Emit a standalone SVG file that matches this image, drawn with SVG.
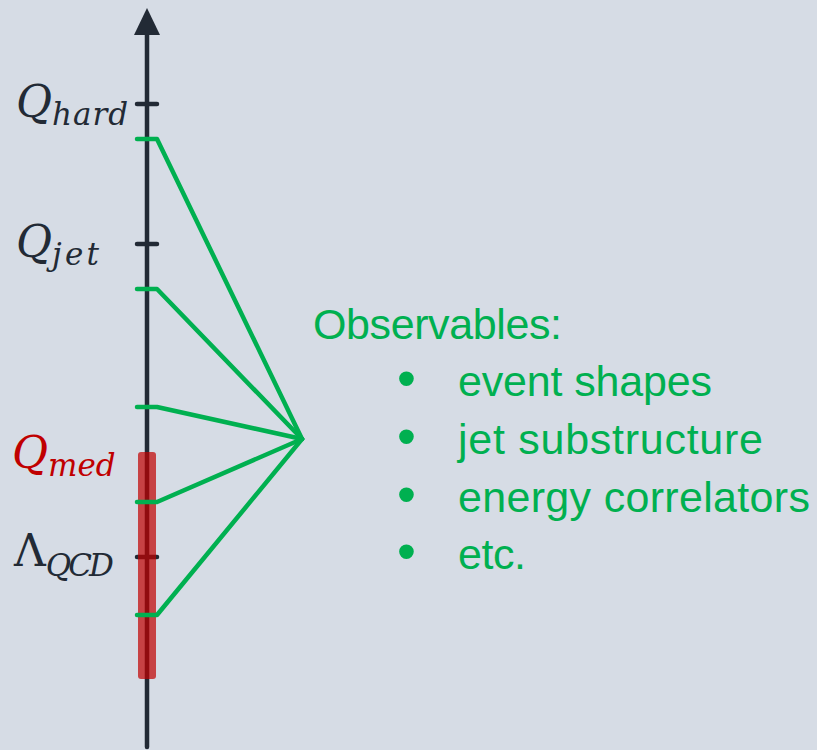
<svg xmlns="http://www.w3.org/2000/svg" width="817" height="750" viewBox="0 0 817 750">
<style>
.axis{stroke:#222a35;stroke-width:4.5;fill:none}
.tick{stroke:#222a35;stroke-width:4.5;stroke-linecap:round}
.obs{stroke:#00b050;stroke-width:4.5;fill:none;stroke-linecap:round;stroke-linejoin:round}
.lbl{font-family:"DejaVu Serif","Liberation Serif",serif;font-style:italic;fill:#222a35}
.sub{font-size:31px}
.main{font-size:44px}
.gt{font-family:"Liberation Sans",Arial,sans-serif;font-size:43px;fill:#00b050}
.bul{font-family:"Liberation Sans",Arial,sans-serif;font-size:54px;fill:#00b050}
</style>
<rect width="817" height="750" fill="#d6dce5"/>
<g id="axis">
<line class="axis" x1="147" y1="30" x2="147" y2="747" stroke-linecap="round"/>
<polygon points="147,8 134,35 160,35" fill="#222a35"/>
</g>
<g id="ticks">
<line class="tick" x1="137" y1="104" x2="157" y2="104"/>
<line class="tick" x1="137" y1="244" x2="157" y2="244"/>
<line class="tick" x1="137" y1="557" x2="157" y2="557"/>
</g>
<g id="qhard"><text class="lbl" x="16" y="117"><tspan class="main">Q</tspan><tspan class="sub" dy="8" textLength="76">hard</tspan></text></g>
<g id="qjet"><text class="lbl" x="16" y="257"><tspan class="main">Q</tspan><tspan class="sub" dy="8" textLength="47">jet</tspan></text></g>
<g id="qmed"><text class="lbl" x="12" y="468" style="fill:#c00000"><tspan class="main">Q</tspan><tspan class="sub" dy="8">med</tspan></text></g>
<g id="lqcd"><text class="lbl" x="14" y="566"><tspan class="main" font-style="normal">Λ</tspan><tspan class="sub" dy="10" textLength="68">QCD</tspan></text></g>
<g id="medium-band"><rect x="138" y="452" width="18" height="227" rx="3" fill="#c00000" fill-opacity="0.7"/></g>
<g id="connectors">
<path class="obs" d="M137,139 H157 L302,439"/>
<path class="obs" d="M137,289 H157 L302,439"/>
<path class="obs" d="M137,407 H157 L302,439"/>
<path class="obs" d="M137,502 H157 L302,439"/>
<path class="obs" d="M137,615 H157 L302,439"/>
</g>
<g id="observables">
<text class="gt" x="313" y="339" textLength="249">Observables:</text>
<text class="bul" x="397" y="397">•</text>
<text class="gt" x="458" y="396" textLength="254">event shapes</text>
<text class="bul" x="397" y="455">•</text>
<text class="gt" x="458" y="454" textLength="305">jet substructure</text>
<text class="bul" x="397" y="513">•</text>
<text class="gt" x="458" y="512" textLength="352">energy correlators</text>
<text class="bul" x="397" y="570">•</text>
<text class="gt" x="458" y="569" textLength="68">etc.</text>
</g>
</svg>
